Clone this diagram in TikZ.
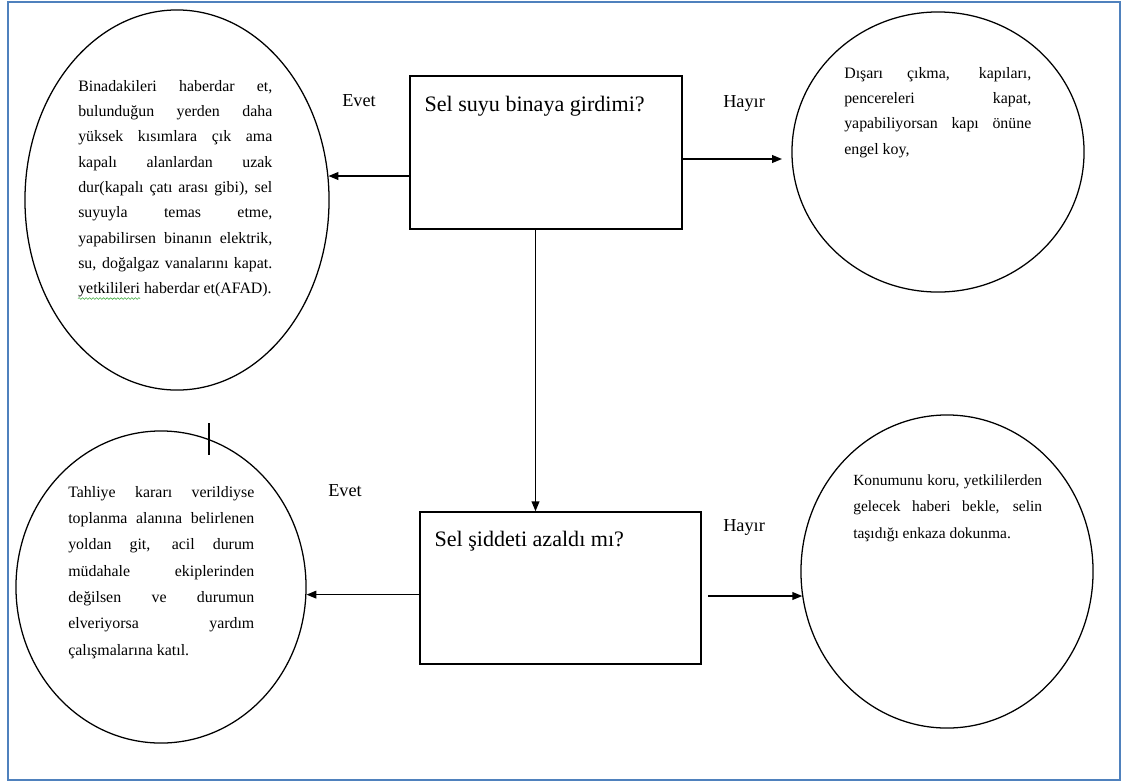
\documentclass[tikz,border=0pt]{standalone}
\usepackage{fontspec}
\setmainfont{Liberation Serif}
\usetikzlibrary{arrows.meta, positioning, calc, shapes.geometric, decorations.pathmorphing}
\definecolor{frameblue}{RGB}{79,129,189}
\definecolor{spellgreen}{RGB}{60,170,60}
\tikzset{
  bubble/.style={draw, ellipse, line width=0.9pt, inner sep=0pt},
  question/.style={draw, rectangle, line width=1pt, inner sep=0pt},
  qlabel/.style={font=\fontsize{15.7pt}{18pt}\selectfont, inner sep=0pt, anchor=base west},
  note/.style={font=\fontsize{11.3pt}{#1}\selectfont, align=justify, inner sep=0pt, anchor=north west},
  note/.default=18pt,
  answer/.style={font=\fontsize{13pt}{15pt}\selectfont, inner sep=0pt, anchor=base west},
  arr/.style={-{Triangle[length=7pt,width=5.5pt]}, line width=1pt},
}
\begin{document}
\begin{tikzpicture}[x=0.025cm, y=-0.025cm]
  \useasboundingbox (0,0) rectangle (1122,783);
  \draw[frameblue, line width=1.5pt] (8,2) rectangle (1120,780);
  \foreach \n/\x/\y/\w/\h in {c1/177/200/7.6/9.5, c2/938/152/7.3/7.0, c3/161/587/7.25/7.8, c4/947/571.5/7.3/7.825}
    \node[bubble, minimum width=\w cm, minimum height=\h cm] (\n) at (\x,\y) {};
  \node[question, minimum width=6.8cm, minimum height=3.825cm] (q1) at (546,152.5) {};
  \node[question, minimum width=7.025cm, minimum height=3.8cm] (q2) at (560.5,588) {};
  \node[qlabel] (q1text) at ($(q1.north west)+(15,36)$) {Sel suyu binaya girdimi?};
  \node[qlabel] (q2text) at ($(q2.north west)+(15,35)$) {Sel şiddeti azaldı mı?};

  \node[note, text width=4.85cm] (t1) at (78,80) {Binadakileri haberdar et,\linebreak bulunduğun yerden daha\linebreak yüksek kısımlara çık ama\linebreak kapalı alanlardan uzak\linebreak dur(kapalı çatı arası gibi), sel\linebreak suyuyla temas etme,\linebreak yapabilirsen binanın elektrik,\linebreak su, doğalgaz vanalarını kapat.\linebreak yetkilileri haberdar et(AFAD).};
  \node[note, text width=4.675cm] (t2) at (844,67) {Dışarı çıkma, kapıları,\linebreak pencereleri kapat,\linebreak yapabiliyorsan kapı önüne\linebreak engel koy,};
  \node[note=18.7pt, text width=4.65cm] (t3) at (68,486) {Tahliye kararı verildiyse\linebreak toplanma alanına belirlenen\linebreak yoldan git, acil durum\linebreak müdahale ekiplerinden\linebreak değilsen ve durumun\linebreak elveriyorsa yardım\linebreak çalışmalarına katıl.};
  \node[note, font=\fontsize{11pt}{18.9pt}\selectfont, text width=4.72cm] (t4) at (853,474) {Konumunu koru, yetkililerden\linebreak gelecek haberi bekle, selin\linebreak taşıdığı enkaza dokunma.};
  \draw[spellgreen, decorate, decoration={snake, amplitude=0.6pt, segment length=2.5pt}] ($(t1.south west)+(0,1)$) -- ++(62,0);

  \node[answer] (e1) at (342,106) {Evet};
  \node[answer] (h1) at (723,107) {Hayır};
  \node[answer] (e2) at (328,496) {Evet};
  \node[answer] (h2) at (723,531) {Hayır};

  \coordinate (n1) at (782,159);
  \coordinate (n2) at (708,596);
  \coordinate (m1) at (535.5,400);
  \draw[arr] (q1.west |- c1.9) -- (c1.9);
  \draw[arr] (q1.east |- n1) -- (n1);
  \draw[arr] (q1.south -| m1) -- (q2.north -| m1);
  \draw[arr] (q2.west |- c3.-3) -- (c3.-3);
  \draw[arr] (n2) -- (c4.190 |- n2);
  \draw[line width=1.4pt] (209,423) -- (209,455);
\end{tikzpicture}
\end{document}
